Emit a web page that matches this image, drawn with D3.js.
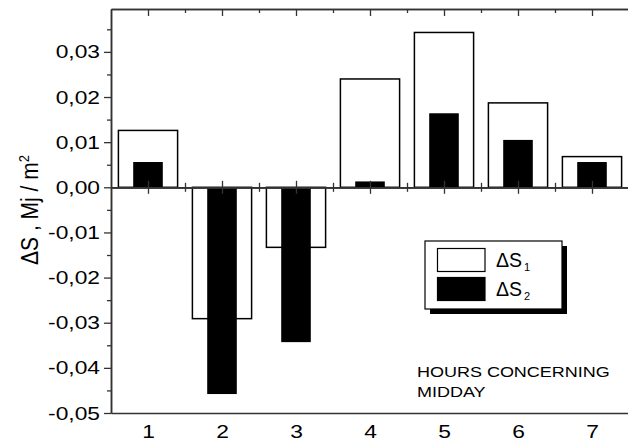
<!DOCTYPE html>
<html>
<head>
<meta charset="utf-8">
<script src="https://cdn.jsdelivr.net/npm/d3@7"></script>
<style>
  body { margin: 0; background: #fff; }
  svg { display: block; font-family: "Liberation Sans", Arial, sans-serif; }
</style>
</head>
<body>
<div id="root"></div>
<script>
// Datos
const hours = [1, 2, 3, 4, 5, 6, 7];
const dS1 = [0.0126, -0.0291, -0.0133, 0.0240, 0.0343, 0.0187, 0.0068];
const dS2 = [0.0056, -0.0458, -0.0343, 0.0013, 0.0164, 0.0105, 0.0056];
const yTicks = [-0.05, -0.04, -0.03, -0.02, -0.01, 0, 0.01, 0.02, 0.03];
const yMinorTicks = [-0.045, -0.035, -0.025, -0.015, -0.005, 0.005, 0.015, 0.025, 0.035];
const xMinorTicks = [1.5, 2.5, 3.5, 4.5, 5.5, 6.5];

const width = 628;
const height = 442;
const margin = { left: 111, top: 9, right: -1, bottom: 29 };
const stretch = 1.2; // el texto original está algo ensanchado

const svg = d3.select("#root")
  .append("svg")
    .attr("width", width)
    .attr("height", height);

const xScale = d3.scaleLinear()
  .domain([0.5, 7.5])
  .range([margin.left, width - margin.right]);

const yScale = d3.scaleLinear()
  .domain([-0.05, 0.0395])
  .range([height - margin.bottom, margin.top]);

const locale = d3.formatLocale({ decimal: ",", thousands: ".", grouping: [3], currency: ["", ""], minus: "-" });
const fmt = locale.format(".2f");

const axisColor = "#333";

// Barras ΔS1 (blancas, anchas)
svg.append("g")
  .selectAll("rect")
  .data(hours.map((h, i) => ({ h, v: dS1[i] })))
  .join("rect")
    .attr("x", d => xScale(d.h - 0.4))
    .attr("width", d => xScale(d.h + 0.4) - xScale(d.h - 0.4))
    .attr("y", d => yScale(Math.max(0, d.v)))
    .attr("height", d => Math.abs(yScale(d.v) - yScale(0)))
    .attr("fill", "white")
    .attr("stroke", "black")
    .attr("stroke-width", 1.5);

// Barras ΔS2 (negras, estrechas)
svg.append("g")
  .selectAll("rect")
  .data(hours.map((h, i) => ({ h, v: dS2[i] })))
  .join("rect")
    .attr("x", d => xScale(d.h - 0.2))
    .attr("width", d => xScale(d.h + 0.2) - xScale(d.h - 0.2))
    .attr("y", d => yScale(Math.max(0, d.v)))
    .attr("height", d => Math.abs(yScale(d.v) - yScale(0)))
    .attr("fill", "black");

function styleAxis(g) {
  g.selectAll("path.domain").attr("stroke", axisColor).attr("stroke-width", 1.5);
  g.selectAll(".tick line").attr("stroke", axisColor).attr("stroke-width", 1.3);
  g.selectAll("text")
    .attr("fill", "black")
    .style("font-size", "19px")
    .style("font-family", "'Liberation Sans', Arial, sans-serif")
    .attr("x", function() { return +d3.select(this).attr("x") / stretch; })
    .attr("transform", `scale(${stretch},1)`);
}

// Eje Y
svg.append("g")
  .attr("transform", `translate(${margin.left},0)`)
  .call(d3.axisLeft(yScale).tickValues(yMinorTicks).tickSize(4).tickFormat("").tickSizeOuter(0))
  .call(styleAxis);
svg.append("g")
  .attr("transform", `translate(${margin.left},0)`)
  .call(d3.axisLeft(yScale).tickValues(yTicks).tickSize(7).tickPadding(4).tickFormat(fmt).tickSizeOuter(0))
  .call(styleAxis);

// Eje superior (ticks hacia dentro)
svg.append("g")
  .attr("transform", `translate(0,${margin.top})`)
  .call(d3.axisBottom(xScale).tickValues(xMinorTicks).tickSize(4).tickFormat("").tickSizeOuter(0))
  .call(styleAxis);
svg.append("g")
  .attr("transform", `translate(0,${margin.top})`)
  .call(d3.axisBottom(xScale).tickValues(hours).tickSize(7).tickFormat("").tickSizeOuter(0))
  .call(styleAxis);

// Línea del cero con ticks cruzados
[d3.axisTop, d3.axisBottom].forEach(ax => {
  svg.append("g")
    .attr("transform", `translate(0,${yScale(0)})`)
    .call(ax(xScale).tickValues(xMinorTicks).tickSize(4.5).tickFormat("").tickSizeOuter(0))
    .call(styleAxis);
  svg.append("g")
    .attr("transform", `translate(0,${yScale(0)})`)
    .call(ax(xScale).tickValues(hours).tickSize(6.5).tickFormat("").tickSizeOuter(0))
    .call(styleAxis);
});

// Eje inferior con etiquetas
svg.append("g")
  .attr("transform", `translate(0,${height - margin.bottom})`)
  .call(d3.axisBottom(xScale).tickValues(hours).tickSize(0).tickPadding(12).tickFormat(d3.format("d")).tickSizeOuter(0))
  .call(styleAxis);

// Título eje Y
const yTitle = svg.append("text")
  .attr("transform", `translate(38, 210) scale(1.1,1) rotate(-90)`)
  .attr("text-anchor", "middle")
  .style("font-size", "21px");
yTitle.append("tspan").text("ΔS , Mj / m");
yTitle.append("tspan").attr("dy", "-0.6em").style("font-size", "13px").text("2");

// Leyenda con sombra
const legend = svg.append("g").attr("transform", "translate(425,241)");
legend.append("rect")
  .attr("x", 5).attr("y", 5).attr("width", 137).attr("height", 68)
  .attr("fill", "black");
legend.append("rect")
  .attr("width", 137).attr("height", 68)
  .attr("fill", "white").attr("stroke", "black").attr("stroke-width", 1.2);

const legendItems = [
  { label: "1", fill: "white" },
  { label: "2", fill: "black" }
];
legendItems.forEach((d, i) => {
  const gy = 7.5 + i * 29;
  legend.append("rect")
    .attr("x", 12.5).attr("y", gy).attr("width", 47.5).attr("height", 23)
    .attr("fill", d.fill).attr("stroke", "black").attr("stroke-width", 1.2);
  const t = legend.append("text")
    .attr("x", 71).attr("y", gy + 18.5)
    .style("font-size", "19.5px");
  t.append("tspan").text("ΔS");
  t.append("tspan").attr("dx", 2).attr("dy", "0.4em").style("font-size", "11px").text(d.label);
});

// Nota
const note = svg.append("text")
  .attr("transform", `scale(${stretch},1)`)
  .style("font-size", "15px");
note.append("tspan").attr("x", 417 / stretch).attr("y", 377).text("HOURS CONCERNING");
note.append("tspan").attr("x", 417 / stretch).attr("y", 397).text("MIDDAY");
</script>
</body>
</html>
